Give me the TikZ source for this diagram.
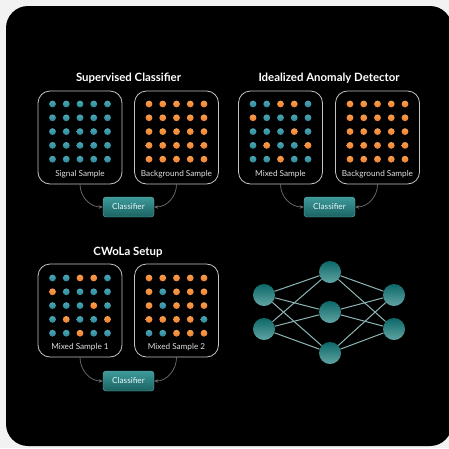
\documentclass[tikz,border=0pt]{standalone}
\usepackage{fontspec}
\setmainfont{Lato}
\usetikzlibrary{arrows.meta}
\definecolor{pagebg}{HTML}{F2F2F2}
\definecolor{boxline}{HTML}{C4C4C4}
\definecolor{sigtop}{HTML}{4AA6B4}
\definecolor{sigbot}{HTML}{2E8797}
\definecolor{bkgtop}{HTML}{F89E4A}
\definecolor{bkgbot}{HTML}{EE8033}
\definecolor{clftop}{HTML}{3E9A9A}
\definecolor{clfbot}{HTML}{1B6262}
\definecolor{nntop}{HTML}{0C6868}
\definecolor{nnbot}{HTML}{62A4A4}
\definecolor{nnedge}{HTML}{8CB6B6}
\definecolor{flow}{HTML}{707070}
\tikzset{
  samplebox/.style={draw=boxline, line width=0.8pt, rounded corners=12pt,
    minimum width=84pt, minimum height=93pt, inner sep=0pt},
  samplelabel/.style={text=white!88!black, font=\fontsize{8.2}{9}\selectfont, inner sep=0pt},
  paneltitle/.style={text=white, font=\bfseries\fontsize{11.4}{13}\selectfont, inner sep=0pt},
  clf/.style={rounded corners=3pt, top color=clftop, bottom color=clfbot,
    draw=clftop!80!white, line width=0.4pt,
    minimum width=51pt, minimum height=20pt, inner sep=0pt,
    text=white!92!cyan, font=\fontsize{8.2}{9}\selectfont},
  flowarrow/.style={draw=flow, line width=0.7pt, -{Stealth[length=4pt,width=3.5pt]}},
  sigdot/.style={top color=sigtop, bottom color=sigbot},
  bkgdot/.style={top color=bkgtop, bottom color=bkgbot},
  neuron/.style={circle, minimum size=22pt, inner sep=0pt, top color=nntop, bottom color=nnbot},
  synapse/.style={draw=nnedge, line width=1pt}
}
\def\sigmark{s}
% 5x5 grid of events; #1,#2 = top-left dot centre, #3 = 25 entries s (signal) / b (background)
\newcommand{\eventgrid}[3]{%
  \foreach \ev [count=\k from 0] in {#3} {%
    \pgfmathtruncatemacro\gcol{mod(\k,5)}%
    \pgfmathtruncatemacro\grow{div(\k,5)}%
    \ifx\ev\sigmark\def\dstyle{sigdot}\else\def\dstyle{bkgdot}\fi
    \path[\dstyle] ({#1+\gcol*13.75},{#2+\grow*13.8}) circle (3.4pt);
  }%
}
\begin{document}
\begin{tikzpicture}[x=1pt,y=-1pt]
\useasboundingbox (0,0) rectangle (449,448);
\fill[pagebg] (0,0) rectangle (449,448);
\fill[black, rounded corners=22pt] (6,6) rectangle (452,446);

% ---- Supervised classifier ----
\node[paneltitle] (t1) at (128.5,78) {Supervised Classifier};
\node[samplebox] (s1a) at (80,137.5) {};
\node[samplebox] (s1b) at (176.5,137.5) {};
\eventgrid{52.5}{104}{s,s,s,s,s,s,s,s,s,s,s,s,s,s,s,s,s,s,s,s,s,s,s,s,s}
\eventgrid{149}{104}{b,b,b,b,b,b,b,b,b,b,b,b,b,b,b,b,b,b,b,b,b,b,b,b,b}
\node[samplelabel] (l1a) at (80,174) {Signal Sample};
\node[samplelabel] (l1b) at (176.5,174) {Background Sample};
\node[clf] (c1) at (128.5,207) {Classifier};
\draw[flowarrow] (s1a.south) to[out=-90,in=180] (c1.west);
\draw[flowarrow] (s1b.south) to[out=-90,in=0] (c1.east);

% ---- Idealized anomaly detector ----
\node[paneltitle] (t2) at (329,78) {Idealized Anomaly Detector};
\node[samplebox] (s2a) at (280.5,137.5) {};
\node[samplebox] (s2b) at (377.5,137.5) {};
\eventgrid{253}{104}{s,s,b,b,s,b,s,s,s,s,s,s,s,b,s,s,b,s,s,b,s,s,b,s,s}
\eventgrid{350}{104}{b,b,b,b,b,b,b,b,b,b,b,b,b,b,b,b,b,b,b,b,b,b,b,b,b}
\node[samplelabel] (l2a) at (280.5,174) {Mixed Sample};
\node[samplelabel] (l2b) at (377.5,174) {Background Sample};
\node[clf] (c2) at (329.5,207) {Classifier};
\draw[flowarrow] (s2a.south) to[out=-90,in=180] (c2.west);
\draw[flowarrow] (s2b.south) to[out=-90,in=0] (c2.east);

% ---- CWoLa setup ----
\node[paneltitle] (t3) at (128,252) {CWoLa Setup};
\node[samplebox] (s3a) at (80,310.5) {};
\node[samplebox] (s3b) at (176.5,310.5) {};
\eventgrid{52.5}{278}{s,s,b,b,s,b,s,s,s,s,s,s,s,b,s,s,b,s,s,b,s,s,b,s,s}
\eventgrid{149}{278}{b,b,b,b,b,b,s,b,b,b,b,s,b,b,b,b,b,b,b,s,s,s,b,b,b}
\node[samplelabel] (l3a) at (80,347) {Mixed Sample 1};
\node[samplelabel] (l3b) at (176.5,347) {Mixed Sample 2};
\node[clf] (c3) at (128.5,381) {Classifier};
\draw[flowarrow] (s3a.south) to[out=-90,in=180] (c3.west);
\draw[flowarrow] (s3b.south) to[out=-90,in=0] (c3.east);

% ---- Neural network ----
\foreach \n/\y in {i1/295, i2/329} \node[neuron] (\n) at (264,\y) {};
\foreach \n/\y in {h1/272, h2/312, h3/353} \node[neuron] (\n) at (330,\y) {};
\foreach \n/\y in {o1/295, o2/329} \node[neuron] (\n) at (394,\y) {};
\foreach \a in {i1,i2} \foreach \b in {h1,h2,h3} \draw[synapse] (\a) -- (\b);
\foreach \a in {h1,h2,h3} \foreach \b in {o1,o2} \draw[synapse] (\a) -- (\b);
\end{tikzpicture}
\end{document}
